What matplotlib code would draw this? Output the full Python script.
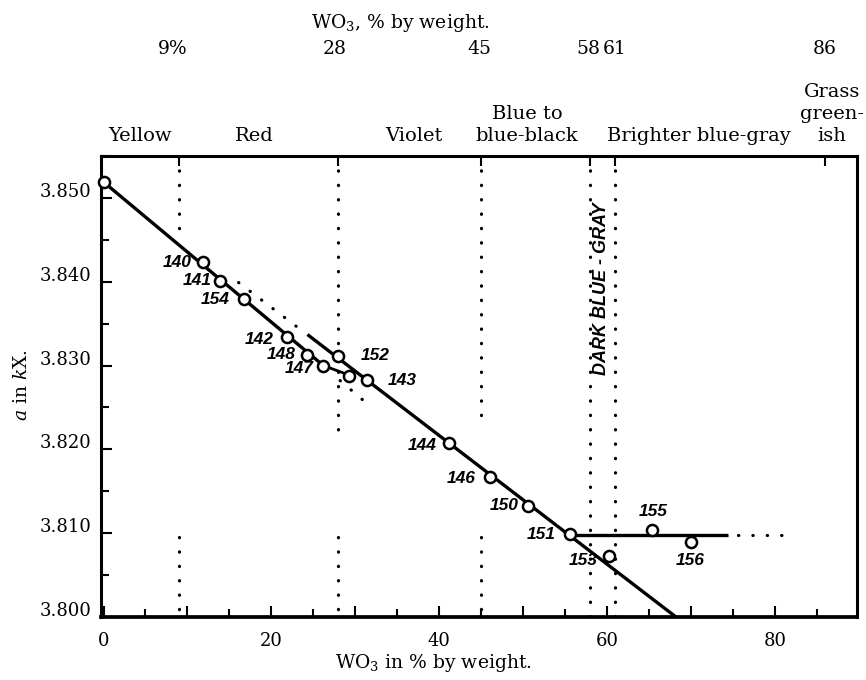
import matplotlib.pyplot as plt
from matplotlib.ticker import MultipleLocator, FuncFormatter
import matplotlib.transforms as mtransforms

plt.rcParams['font.family'] = 'DejaVu Serif'
plt.rcParams['mathtext.fontset'] = 'dejavuserif'

# specimens: WO3 content (wt-%) and lattice constant a (kX)
sample_ids = ['', '140', '141', '154', '142', '148', '147', '152', '',
              '143', '144', '146', '150', '151', '153', '155', '156']
wo3 = [0, 11.9, 13.9, 16.7, 21.9, 24.3, 26.2, 28.0, 29.2,
       31.4, 41.2, 46.1, 50.6, 55.6, 60.2, 65.4, 70.0]
a_kx = [3.8519, 3.8423, 3.8401, 3.8379, 3.8334, 3.8313, 3.8300, 3.8311, 3.8287,
        3.8283, 3.8207, 3.8167, 3.8133, 3.8099, 3.8073, 3.8104, 3.8090]

# drawn curves
line_a_x, line_a_y = [0, 26.2], [3.8519, 3.8300]
line_a_tail_x, line_a_tail_y = [26.2, 28.9], [3.8300, 3.8290]
line_a_dot_x, line_a_dot_y = [28.2, 31.6], [3.8282, 3.8253]
line_b_dot_x, line_b_dot_y = [16.1, 23.6], [3.8399, 3.8342]
line_b_x, line_b_y = [24.3, 69.4], [3.8337, 3.7991]
flat_x, flat_y = [55.6, 74.4], [3.8098, 3.8098]
flat_dot_x, flat_dot_y = [75.6, 81.6], [3.8098, 3.8098]

# colour boundaries (wt-% WO3) and the parts of the dotted lines drawn
bounds = [9, 28, 45, 58, 61]
bound_top_end = [3.8455, 3.8218, 3.8233, 3.800, 3.800]
bound_low_start = [3.8095, 3.8095, 3.8095, None, None]
top_ticks = [9, 28, 45, 58, 61, 86]

fig = plt.figure(figsize=(8.66, 6.8), dpi=100)
ax = fig.add_axes([101 / 866, 1 - 617 / 680, 756 / 866, 461 / 680])
ax.set_xlim(-0.3, 89.8)
ax.set_ylim(3.800, 3.855)

dots = dict(color='black', lw=2.3, ls=(0, (0.1, 4.4)), dash_capstyle='round')
solid = dict(color='black', lw=2.4, solid_capstyle='butt')

for xb, y_end, y_low in zip(bounds, bound_top_end, bound_low_start):
    ax.plot([xb, xb], [3.855, y_end], **dots)
    if y_low is not None:
        ax.plot([xb, xb], [y_low, 3.800], **dots)

ax.plot(line_a_x, line_a_y, **solid)
ax.plot(line_a_tail_x, line_a_tail_y, color='black', lw=2.0)
ax.plot(line_a_dot_x, line_a_dot_y, **dots)
ax.plot(line_b_dot_x, line_b_dot_y, **dots)
ax.plot(line_b_x, line_b_y, **solid)
ax.plot(flat_x, flat_y, **solid)
ax.plot(flat_dot_x, flat_dot_y, **dots)

ax.plot(wo3, a_kx, 'o', ms=8, mfc='white', mec='black', mew=1.8, zorder=5,
        clip_on=False)

# label offsets in pixels from each circle
offsets = {'140': (-26, 0), '141': (-23, 0), '154': (-28, 0), '142': (-28, -2),
           '148': (-26, 0), '147': (-24, -3), '152': (37, 1), '143': (35, -1),
           '144': (-27, -2), '146': (-29, -1), '150': (-24, 0), '151': (-29, 0),
           '153': (-25, -5), '155': (1, 18), '156': (-1, -19)}
for sid, xv, yv in zip(sample_ids, wo3, a_kx):
    if not sid:
        continue
    ax.annotate(sid, (xv, yv), xytext=offsets[sid], textcoords='offset pixels',
                ha='center', va='center', fontfamily='Liberation Sans',
                fontweight='bold', fontstyle='italic', fontsize=12.5)

ax.text(59.3, 3.8392, 'DARK BLUE - GRAY', rotation=90, ha='center', va='center',
        fontfamily='Liberation Sans', fontweight='bold', fontstyle='italic',
        fontsize=13)

# axes frame and ticks
for side in ['left', 'top', 'right']:
    ax.spines[side].set_linewidth(2.2)
ax.spines['bottom'].set_linewidth(2.7)

ax.xaxis.set_major_locator(MultipleLocator(10))
ax.xaxis.set_minor_locator(MultipleLocator(5))
ax.xaxis.set_major_formatter(FuncFormatter(
    lambda v, p: '%d' % v if round(v) % 20 == 0 and v < 85 else ''))
ax.yaxis.set_major_locator(MultipleLocator(0.01))
ax.yaxis.set_minor_locator(MultipleLocator(0.005))
ax.yaxis.set_major_formatter(FuncFormatter(lambda v, p: '%.3f' % v))
ax.tick_params(axis='both', which='both', direction='in', width=1.5,
               labelsize=13)
ax.tick_params(axis='both', which='major', length=8)
ax.tick_params(axis='both', which='minor', length=6)
ax.tick_params(axis='x', pad=11)
ax.tick_params(axis='y', pad=7)

# y labels sit a little above their ticks in the original
lift = mtransforms.ScaledTranslation(0, 8 / 100, fig.dpi_scale_trans)
for tick in ax.yaxis.get_major_ticks():
    tick.label1.set_transform(tick.label1.get_transform() + lift)

ax_top = ax.twiny()
ax_top.set_xlim(ax.get_xlim())
ax_top.set_xticks(top_ticks)
ax_top.tick_params(axis='x', direction='in', length=7, width=1.5,
                   labeltop=False)
for side in ax_top.spines:
    ax_top.spines[side].set_visible(False)

# text above the frame
trans = mtransforms.blended_transform_factory(ax.transData, fig.transFigure)


def fy(px):
    return 1 - px / 680


top_numbers = [('9%', 8.3), ('28', 27.6), ('45', 44.8), ('58', 57.8),
               ('61', 60.9), ('86', 86.0)]
for txt, xv in top_numbers:
    ax.text(xv, fy(54), txt, transform=trans, ha='center', va='baseline',
            fontsize=13.5)

zone_rows = [('Yellow', 4.3, 0), ('Red', 18.0, 0), ('Violet', 37.0, 0),
             ('blue-black', 50.5, 0), ('Blue to', 50.5, 1),
             ('Brighter blue-gray', 71.0, 0), ('ish', 86.8, 0),
             ('green-', 86.8, 1), ('Grass', 86.8, 2)]
for txt, xv, row in zone_rows:
    ax.text(xv, fy(141 - 22 * row), txt, transform=trans, ha='center',
            va='baseline', fontsize=14)

ax.text(35.4, fy(28), 'WO$_3$, % by weight.', transform=trans, ha='center',
        va='baseline', fontsize=13.5)
ax.text(39.3, fy(668), 'WO$_3$ in % by weight.', transform=trans, ha='center',
        va='baseline', fontsize=13.5)
fig.text(22 / 866, fy(385), '$a$ in $k$X.', rotation=90, ha='center',
         va='center', fontsize=13.5)

fig.savefig('out.png', dpi=100)
